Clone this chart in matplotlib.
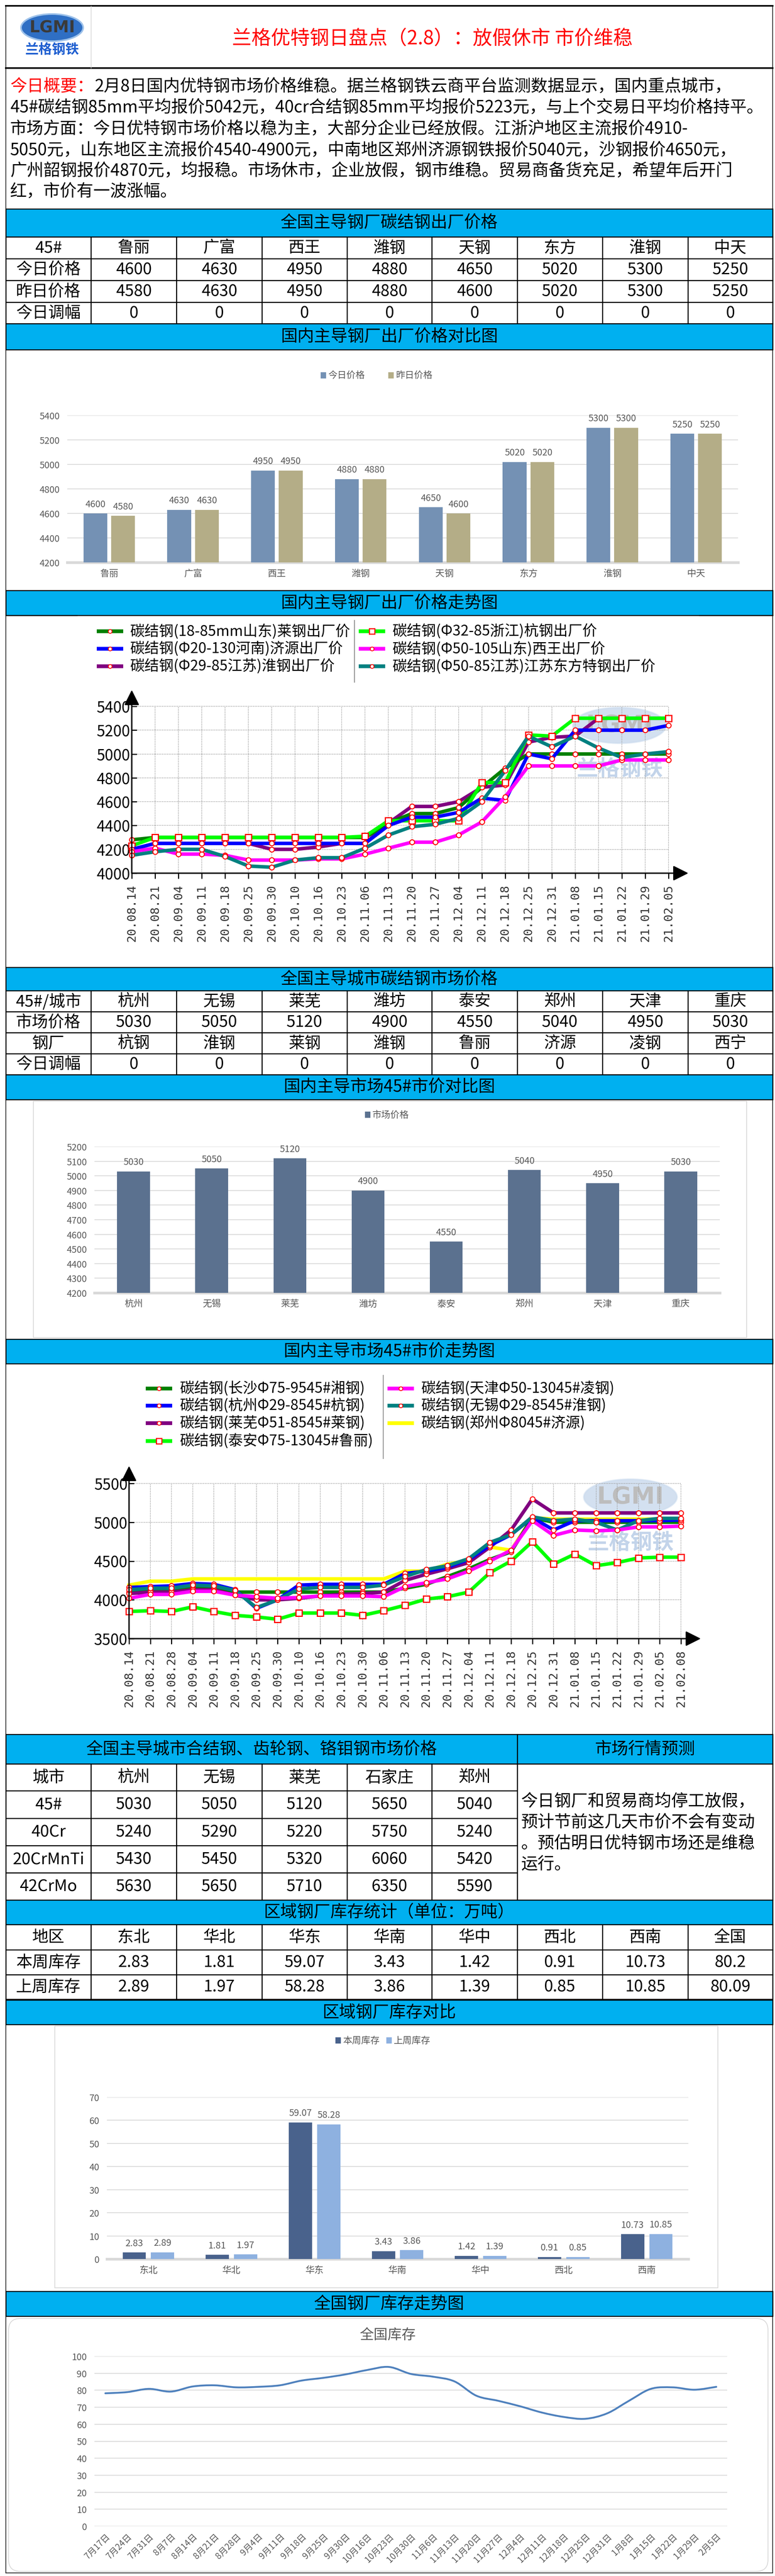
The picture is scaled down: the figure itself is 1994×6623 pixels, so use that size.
import matplotlib
matplotlib.use('Agg')
import matplotlib.pyplot as plt
from matplotlib.patches import Rectangle, Ellipse, FancyBboxPatch, PathPatch
from matplotlib.path import Path
import numpy as np

plt.rcParams['font.family'] = ['Noto Sans CJK SC', 'DejaVu Sans']

# ---------------- data ----------------
title = '兰格优特钢日盘点（2.8）：放假休市 市价维稳'
intro_head = '今日概要：'
intro_lines = [
    '2月8日国内优特钢市场价格维稳。据兰格钢铁云商平台监测数据显示，国内重点城市，',
    '45#碳结钢85mm平均报价5042元，40cr合结钢85mm平均报价5223元，与上个交易日平均价格持平。',
    '市场方面：今日优特钢市场价格以稳为主，大部分企业已经放假。江浙沪地区主流报价4910-',
    '5050元，山东地区主流报价4540-4900元，中南地区郑州济源钢铁报价5040元，沙钢报价4650元，',
    '广州韶钢报价4870元，均报稳。市场休市，企业放假，钢市维稳。贸易商备货充足，希望年后开门',
    '红，市价有一波涨幅。',
]

mills = ['鲁丽', '广富', '西王', '潍钢', '天钢', '东方', '淮钢', '中天']
price_today = [4600, 4630, 4950, 4880, 4650, 5020, 5300, 5250]
price_yest = [4580, 4630, 4950, 4880, 4600, 5020, 5300, 5250]
mill_change = [0, 0, 0, 0, 0, 0, 0, 0]

dates1 = ['20.08.14', '20.08.21', '20.09.04', '20.09.11', '20.09.18', '20.09.25',
          '20.09.30', '20.10.10', '20.10.16', '20.10.23', '20.11.06', '20.11.13',
          '20.11.20', '20.11.27', '20.12.04', '20.12.11', '20.12.18', '20.12.25',
          '20.12.31', '21.01.08', '21.01.15', '21.01.22', '21.01.29', '21.02.05']
f_laigang = [4280, 4300, 4300, 4300, 4300, 4300, 4300, 4300, 4300, 4300, 4300, 4420,
             4500, 4500, 4550, 4720, 4880, 5000, 5000, 5000, 5000, 5000, 5000, 5000]
f_huaigang = [4200, 4250, 4250, 4250, 4250, 4250, 4200, 4200, 4220, 4250, 4250, 4420,
              4560, 4560, 4600, 4720, 4740, 5100, 5140, 5150, 5300, 5300, 5300, 5300]
f_hanggang = [4230, 4300, 4300, 4300, 4300, 4300, 4300, 4300, 4300, 4300, 4310, 4440,
              4440, 4440, 4440, 4760, 4760, 5160, 5150, 5300, 5300, 5300, 5300, 5300]
f_jiyuan = [4200, 4250, 4250, 4250, 4250, 4250, 4250, 4250, 4250, 4250, 4250, 4400,
            4470, 4470, 4510, 4630, 4610, 5000, 4960, 5200, 5200, 5200, 5200, 5240]
f_xiwang = [4180, 4210, 4160, 4160, 4150, 4110, 4110, 4110, 4120, 4120, 4160, 4210,
            4260, 4260, 4320, 4430, 4640, 4900, 4900, 4900, 4900, 4950, 4950, 4950]
f_dongfang = [4150, 4180, 4200, 4200, 4140, 4060, 4050, 4110, 4130, 4130, 4210, 4320,
              4390, 4410, 4460, 4600, 4860, 5150, 5060, 5150, 5050, 4970, 5000, 5020]

cities = ['杭州', '无锡', '莱芜', '潍坊', '泰安', '郑州', '天津', '重庆']
city_price = [5030, 5050, 5120, 4900, 4550, 5040, 4950, 5030]
city_mill = ['杭钢', '淮钢', '莱钢', '潍钢', '鲁丽', '济源', '凌钢', '西宁']
city_change = [0, 0, 0, 0, 0, 0, 0, 0]

dates2 = ['20.08.14', '20.08.21', '20.08.28', '20.09.04', '20.09.11', '20.09.18',
          '20.09.25', '20.09.30', '20.10.10', '20.10.16', '20.10.23', '20.10.30',
          '20.11.06', '20.11.13', '20.11.20', '20.11.27', '20.12.04', '20.12.11',
          '20.12.18', '20.12.25', '20.12.31', '21.01.08', '21.01.15', '21.01.22',
          '21.01.29', '21.02.05', '21.02.08']
m_changsha = [4100, 4130, 4130, 4150, 4150, 4100, 4100, 4100, 4100, 4100, 4100, 4100, 4100,
              4150, 4200, 4300, 4400, 4520, 4620, 5060, 5000, 5000, 5000, 5000, 5000, 5000, 5000]
m_laiwu = [4080, 4100, 4100, 4130, 4130, 4060, 4000, 4000, 4020, 4050, 4070, 4080, 4100,
           4250, 4330, 4400, 4480, 4680, 4900, 5300, 5120, 5120, 5120, 5120, 5120, 5120, 5120]
m_hangzhou = [4160, 4170, 4180, 4210, 4200, 4130, 3890, 4000, 4190, 4200, 4200, 4200, 4200,
              4340, 4370, 4420, 4520, 4700, 4840, 5060, 4900, 5020, 5020, 5020, 5020, 5020, 5030]
m_tianjin = [4020, 4070, 4070, 4110, 4110, 4060, 4040, 4020, 4030, 4050, 4050, 4050, 4040,
             4170, 4220, 4270, 4370, 4500, 4640, 5020, 4830, 4900, 4890, 4900, 4940, 4940, 4950]
m_wuxi = [4130, 4150, 4150, 4190, 4180, 4120, 3900, 4000, 4140, 4160, 4160, 4160, 4190,
          4300, 4390, 4440, 4530, 4740, 4840, 5070, 5020, 5040, 5000, 4900, 5020, 5050, 5050]
m_zhengzhou = [4190, 4240, 4240, 4270, 4270, 4270, 4270, 4270, 4270, 4270, 4270, 4270, 4270,
               4370, 4370, 4460, 4510, 4680, 4640, 5060, 5040, 5040, 5040, 5040, 5040, 5040, 5040]
m_taian = [3850, 3860, 3850, 3910, 3850, 3800, 3780, 3750, 3830, 3830, 3830, 3800, 3860,
           3930, 4010, 4040, 4100, 4350, 4500, 4750, 4460, 4590, 4440, 4480, 4540, 4550, 4550]

alloy_cities = ['杭州', '无锡', '莱芜', '石家庄', '郑州']
alloy_45 = [5030, 5050, 5120, 5650, 5040]
alloy_40cr = [5240, 5290, 5220, 5750, 5240]
alloy_20crmnti = [5430, 5450, 5320, 6060, 5420]
alloy_42crmo = [5630, 5650, 5710, 6350, 5590]
forecast_lines = ['今日钢厂和贸易商均停工放假，', '预计节前这几天市价不会有变动',
                  '。预估明日优特钢市场还是维稳', '运行。']

regions = ['东北', '华北', '华东', '华南', '华中', '西北', '西南', '全国']
stock_this = [2.83, 1.81, 59.07, 3.43, 1.42, 0.91, 10.73, 80.2]
stock_last = [2.89, 1.97, 58.28, 3.86, 1.39, 0.85, 10.85, 80.09]

stock_dates = ['7月17日', '7月24日', '7月31日', '8月7日', '8月14日', '8月21日', '8月28日',
               '9月4日', '9月11日', '9月18日', '9月25日', '9月30日', '10月16日', '10月23日',
               '10月30日', '11月6日', '11月13日', '11月20日', '11月27日', '12月4日',
               '12月11日', '12月18日', '12月25日', '12月31日', '1月8日', '1月15日',
               '1月22日', '1月29日', '2月5日']
stock_total = [78.2, 78.9, 80.8, 79.2, 82.2, 82.9, 81.7, 82.0, 82.9, 85.7, 87.3, 89.3,
               91.9, 93.7, 89.6, 88.0, 85.2, 76.8, 73.8, 70.6, 66.9, 64.3, 63.2, 66.4,
               73.8, 80.8, 81.7, 80.3, 82.0]

# ---------------- page ----------------
W, H = 1994, 6624
fig = plt.figure(figsize=(W / 100, H / 100), dpi=100)
bg = fig.add_axes([0, 0, 1, 1])
bg.set_xlim(0, W)
bg.set_ylim(H, 0)
bg.axis('off')

BLUE = '#00B0F0'
GRAY = '#595959'
L, R = 15, 1988
cols9 = [15, 234, 454, 674, 893, 1111, 1331, 1550, 1770, 1988]


def px_axes(x0, y0, x1, y1):
    return fig.add_axes([x0 / W, 1 - y1 / H, (x1 - x0) / W, (y1 - y0) / H])


def header(y0, y1, text, x0=L, x1=R):
    bg.add_patch(Rectangle((x0, y0), x1 - x0, y1 - y0, fc=BLUE, ec='black', lw=1.8))
    bg.text((x0 + x1) / 2, (y0 + y1) / 2, text, ha='center', va='center', fontsize=31)


def table(row_edges, col_edges, rows, fs=30):
    for i, row in enumerate(rows):
        for j, val in enumerate(row):
            x0, x1 = col_edges[j], col_edges[j + 1]
            y0, y1 = row_edges[i], row_edges[i + 1]
            bg.add_patch(Rectangle((x0, y0), x1 - x0, y1 - y0, fc='white', ec='black', lw=1.8))
            bg.text((x0 + x1) / 2, (y0 + y1) / 2, str(val), ha='center', va='center', fontsize=fs)


# page frame
bg.plot([L, L], [16, 6616], color='black', lw=1.2)
bg.plot([R, R], [16, 6616], color='black', lw=1.2)
bg.plot([L, R], [6616, 6616], color='black', lw=1.2)
bg.plot([L, R], [16, 16], color='black', lw=3)
bg.plot([L, R], [176, 176], color='black', lw=3)
bg.plot([234, 234], [16, 176], color='#CCCCCC', lw=1)

# logo
bg.add_patch(Ellipse((134, 72), 160, 70, fc='#2F6FC4', ec='#9EC2EA', lw=3))
bg.text(134, 72, 'LGMI', ha='center', va='center', fontsize=30, fontweight='bold',
        color='#3A3A3A', fontfamily='DejaVu Sans')
bg.text(134, 128, '兰格钢铁', ha='center', va='center', fontsize=25, fontweight='bold',
        color='#1F5FD0')

bg.text(1112, 100, title, ha='center', va='center', fontsize=36, color='red')

# intro paragraph
line_y = [223, 277, 332, 387, 440, 493]
bg.text(26, line_y[0], intro_head, ha='left', va='center', fontsize=31, color='red')
bg.text(243, line_y[0], intro_lines[0], ha='left', va='center', fontsize=31)
for yy, s in zip(line_y[1:], intro_lines[1:]):
    bg.text(26, yy, s, ha='left', va='center', fontsize=31)

# table 1
header(538, 610, '全国主导钢厂碳结钢出厂价格')
table([610, 666, 722, 778, 833], cols9,
      [['45#'] + mills, ['今日价格'] + price_today, ['昨日价格'] + price_yest,
       ['今日调幅'] + mill_change])

# bar chart 1
header(833, 900, '国内主导钢厂出厂价格对比图')


def legend_items(y, items):
    for xs, color, label in items:
        bg.add_patch(Rectangle((xs - 7, y - 8), 14, 16, fc=color, ec='none'))
        bg.text(xs + 12, y, label, ha='left', va='center', fontsize=17, color=GRAY)


def bar_axes(x0, y0, x1, y1, ymin, ymax, step, ncat):
    ax = px_axes(x0, y0, x1, y1)
    ax.patch.set_alpha(0)
    ax.set_ylim(ymin, ymax)
    ax.set_xlim(-0.5, ncat - 0.5)
    ax.set_yticks(np.arange(ymin, ymax + step / 2, step))
    ax.yaxis.grid(True, color='#D9D9D9', lw=1.5)
    ax.set_axisbelow(True)
    for s in ax.spines.values():
        s.set_visible(False)
    ax.axhline(ymin, color='#D9D9D9', lw=5, clip_on=False, zorder=0.5)
    ax.tick_params(length=0, labelsize=17, labelcolor=GRAY)
    ax.tick_params(axis='y', pad=14)
    ax.tick_params(axis='x', pad=12)
    return ax


def bar_labels(ax, xs, vals):
    for xx, v in zip(xs, vals):
        ax.annotate(str(v), (xx, v), xytext=(0, 9), textcoords='offset points',
                    ha='center', va='bottom', fontsize=17, color=GRAY)


legend_items(966, [(832, '#7491B4', '今日价格'), (1006, '#B4AD87', '昨日价格')])
ax1 = bar_axes(173, 1069, 1899, 1447, 4200, 5400, 200, len(mills))
x = np.arange(len(mills))
ax1.bar(x - 0.165, price_today, 0.283, color='#7491B4')
ax1.bar(x + 0.165, price_yest, 0.283, color='#B4AD87')
bar_labels(ax1, x - 0.165, price_today)
bar_labels(ax1, x + 0.165, price_yest)
ax1.set_xticks(x)
ax1.set_xticklabels(mills)

# ---------------- trend charts ----------------


def trend_chart(dates, series, px0, px1, py0, py1, px_end, py_top, yticks):
    n = len(dates)
    v0, v1 = yticks[0], yticks[-1]
    sx = (n - 1) / (px1 - px0)
    sy = (v1 - v0) / (py0 - py1)
    ax = px_axes(px0, py_top, px_end, py0)
    ax.patch.set_alpha(0)
    xmax = (px_end - px0) * sx
    ymax = v0 + (py0 - py_top) * sy
    ax.set_xlim(0, xmax)
    ax.set_ylim(v0, ymax)
    for s in ax.spines.values():
        s.set_visible(False)
    xs = np.arange(n)
    ax.vlines(xs[1:], v0, v1, colors='#A0A0A0', linestyles=(0, (1.2, 1.2)), lw=1.3, zorder=1)
    ax.hlines(yticks[1:], 0, n - 1, colors='#A0A0A0', linestyles=(0, (1.2, 1.2)), lw=1.3, zorder=1)
    for vals, color, marker in series:
        if marker == 's':
            ax.plot(xs, vals, color=color, lw=6.5, marker='s', ms=12, mfc='white', mec='red',
                    mew=2.2, clip_on=False, zorder=3)
        elif marker == 'o':
            ax.plot(xs, vals, color=color, lw=6.5, marker='o', ms=9, mfc='white', mec='red',
                    mew=1.8, clip_on=False, zorder=3)
        else:
            ax.plot(xs, vals, color=color, lw=6.5, clip_on=False, zorder=3)
    arrow = dict(arrowstyle='-|>,head_length=0.6,head_width=0.3', color='black', lw=2.5,
                 shrinkA=0, shrinkB=0, mutation_scale=40)
    ax.annotate('', xy=(xmax, v0), xytext=(0, v0), arrowprops=arrow, annotation_clip=False)
    ax.annotate('', xy=(0, ymax), xytext=(0, v0), arrowprops=arrow, annotation_clip=False)
    ax.set_yticks(yticks)
    ax.set_yticklabels([str(t) for t in yticks], fontsize=28)
    ax.set_xticks(xs)
    ax.set_xticklabels(dates, rotation=90, fontfamily='DejaVu Sans Mono', fontsize=22,
                       color='#333333')
    ax.tick_params(axis='y', direction='in', length=9, width=2, pad=3)
    ax.tick_params(axis='x', direction='out', length=10, width=2, pad=10)
    return ax


def trend_legend(entries, x_line, x_text, ys, fs=27):
    for (label, color, marker), yy in zip(entries, ys):
        bg.plot([x_line, x_line + 68], [yy, yy], color=color, lw=7, solid_capstyle='butt')
        if marker == 's':
            bg.plot([x_line + 34], [yy], marker='s', ms=10, mfc='white', mec='red', mew=2)
        elif marker == 'o':
            bg.plot([x_line + 34], [yy], marker='o', ms=7, mfc='white', mec='red', mew=1.5)
        bg.text(x_text, yy, label, ha='left', va='center', fontsize=fs)


def watermark(cx, cy, ty):
    bg.add_patch(Ellipse((cx, cy), 240, 92, fc='#A9C3E3', ec='#C9DAEE', lw=3, alpha=0.5))
    bg.text(cx, cy, 'LGMI', ha='center', va='center', fontsize=44, fontweight='bold',
            color='#BDBDBD', fontfamily='DejaVu Sans')
    bg.text(cx, ty, '兰格钢铁', ha='center', va='center', fontsize=40, fontweight='bold',
            color='#C3D4EA')


# trend chart 1
header(1519, 1583, '国内主导钢厂出厂价格走势图')
bg.plot([15, 198], [1583, 1583], color='black', lw=1.8)
bg.plot([1799, 1988], [1583, 1583], color='black', lw=1.8)
trend_legend([('碳结钢(18-85mm山东)莱钢出厂价', '#008000', 'o'),
              ('碳结钢(Φ20-130河南)济源出厂价', '#0000FF', 'o'),
              ('碳结钢(Φ29-85江苏)淮钢出厂价', '#800080', 'o')],
             249, 335, [1624, 1669, 1714])
trend_legend([('碳结钢(Φ32-85浙江)杭钢出厂价', '#00FF00', 's'),
              ('碳结钢(Φ50-105山东)西王出厂价', '#FF00FF', 'o'),
              ('碳结钢(Φ50-85江苏)江苏东方特钢出厂价', '#008080', 'o')],
             923, 1010, [1624, 1669, 1714])
bg.plot([912, 912], [1596, 1755], color='#8A8A8A', lw=1.5)
watermark(1594, 1866, 1978)
trend_chart(dates1, [(f_huaigang, '#800080', 'o'), (f_laigang, '#008000', 'o'),
                     (f_hanggang, '#00FF00', 's'), (f_jiyuan, '#0000FF', 'o'),
                     (f_xiwang, '#FF00FF', 'o'), (f_dongfang, '#008080', 'o')],
            339, 1720, 2246, 1817, 1771, 1775,
            [4000, 4200, 4400, 4600, 4800, 5000, 5200, 5400])

# table 2
header(2488, 2548, '全国主导城市碳结钢市场价格')
table([2548, 2602, 2656, 2710, 2764], cols9,
      [['45#/城市'] + cities, ['市场价格'] + city_price, ['钢厂'] + city_mill,
       ['今日调幅'] + city_change])

# bar chart 2
header(2764, 2828, '国内主导市场45#市价对比图')
bg.add_patch(Rectangle((86, 2832), 1835, 608, fc='none', ec='#D9D9D9', lw=1.5))
legend_items(2867, [(946, '#5B718F', '市场价格')])
ax2 = bar_axes(243, 2949, 1852, 3325, 4200, 5200, 100, len(cities))
x = np.arange(len(cities))
ax2.bar(x, city_price, 0.42, color='#5B718F')
bar_labels(ax2, x, city_price)
ax2.set_xticks(x)
ax2.set_xticklabels(cities)

# trend chart 2
header(3444, 3507, '国内主导市场45#市价走势图')
trend_legend([('碳结钢(长沙Φ75-9545#湘钢)', '#008000', 'o'),
              ('碳结钢(杭州Φ29-8545#杭钢)', '#0000FF', 'o'),
              ('碳结钢(莱芜Φ51-8545#莱钢)', '#800080', 'o'),
              ('碳结钢(泰安Φ75-13045#鲁丽)', '#00FF00', 's')],
             375, 463, [3571, 3615, 3660, 3706])
trend_legend([('碳结钢(天津Φ50-13045#凌钢)', '#FF00FF', 'o'),
              ('碳结钢(无锡Φ29-8545#淮钢)', '#008080', 'o'),
              ('碳结钢(郑州Φ8045#济源)', '#FFFF00', None)],
             997, 1084, [3571, 3615, 3660])
bg.plot([986, 986], [3537, 3751], color='#8A8A8A', lw=1.5)
watermark(1622, 3850, 3967)
trend_chart(dates2, [(m_zhengzhou, '#FFFF00', None), (m_changsha, '#008000', 'o'),
                     (m_laiwu, '#800080', 'o'), (m_hangzhou, '#0000FF', 'o'),
                     (m_wuxi, '#008080', 'o'), (m_tianjin, '#FF00FF', 'o'),
                     (m_taian, '#00FF00', 's')],
            332, 1752, 4214, 3815, 1803, 3770, [3500, 4000, 4500, 5000, 5500])

# alloy table + forecast
header(4460, 4536, '全国主导城市合结钢、齿轮钢、铬钼钢市场价格', x1=1331)
header(4460, 4536, '市场行情预测', x0=1331)
table([4536, 4605, 4676, 4746, 4816, 4886], cols9[:7],
      [['城市'] + alloy_cities, ['45#'] + alloy_45, ['40Cr'] + alloy_40cr,
       ['20CrMnTi'] + alloy_20crmnti, ['42CrMo'] + alloy_42crmo])
bg.add_patch(Rectangle((1331, 4536), R - 1331, 350, fc='white', ec='black', lw=1.8))
for yy, s in zip([4632, 4686, 4740, 4794], forecast_lines):
    bg.text(1340, yy, s, ha='left', va='center', fontsize=31)

# stock table
header(4886, 4949, '区域钢厂库存统计（单位：万吨）')
table([4949, 5014, 5078, 5141], cols9,
      [['地区'] + regions, ['本周库存'] + stock_this, ['上周库存'] + stock_last])

# bar chart 3
header(5143, 5206, '区域钢厂库存对比')
bg.add_patch(Rectangle((141, 5210), 1706, 673, fc='none', ec='#D9D9D9', lw=1.5))
legend_items(5247, [(870, '#49628C', '本周库存'), (1001, '#8EB1E0', '上周库存')])
nreg = len(regions) - 1
ax3 = bar_axes(275, 5393, 1771, 5809, 0, 70, 10, nreg)
x = np.arange(nreg)
ax3.bar(x - 0.17, stock_this[:nreg], 0.28, color='#49628C')
ax3.bar(x + 0.17, stock_last[:nreg], 0.28, color='#8EB1E0')
bar_labels(ax3, x - 0.17, stock_this[:nreg])
bar_labels(ax3, x + 0.17, stock_last[:nreg])
ax3.set_xticks(x)
ax3.set_xticklabels(regions[:nreg])

# stock trend
header(5892, 5956, '全国钢厂库存走势图')
bg.add_patch(FancyBboxPatch((22, 5962), 1954, 650, boxstyle='round,pad=0,rounding_size=30',
                            fc='white', ec='#D9D9D9', lw=1.5))
bg.text(997, 6004, '全国库存', ha='center', va='center', fontsize=26, color=GRAY)
ax4 = px_axes(243, 6059, 1871, 6496)
ax4.patch.set_alpha(0)
ax4.set_xlim(-0.5, len(stock_dates) - 0.5)
ax4.set_ylim(0, 100)
ax4.set_yticks(np.arange(0, 101, 10))
ax4.yaxis.grid(True, color='#D9D9D9', lw=1.5)
ax4.set_axisbelow(True)
for s in ax4.spines.values():
    s.set_visible(False)
ax4.tick_params(length=0, labelsize=17, labelcolor=GRAY)
ax4.tick_params(axis='y', pad=14)
ax4.set_xticks(np.arange(len(stock_dates)))
ax4.set_xticklabels(stock_dates, rotation=45, ha='right', va='top', rotation_mode='anchor',
                    fontsize=16, color=GRAY)
ax4.tick_params(axis='x', pad=10)
# smoothed line (cubic bezier through the read points, like Excel smoothing)
pts = np.column_stack([np.arange(len(stock_total)), stock_total])
ext = np.vstack([pts[0], pts, pts[-1]])
verts = [tuple(pts[0])]
codes = [Path.MOVETO]
for i in range(len(pts) - 1):
    p0, p1, p2, p3 = ext[i], ext[i + 1], ext[i + 2], ext[i + 3]
    c1 = p1 + (p2 - p0) / 6
    c2 = p2 - (p3 - p1) / 6
    verts += [tuple(c1), tuple(c2), tuple(p2)]
    codes += [Path.CURVE4] * 3
ax4.add_patch(PathPatch(Path(verts, codes), fill=False, ec='#4F81BD', lw=3.4,
                        capstyle='round', joinstyle='round'))

fig.savefig('out.png', dpi=100)
